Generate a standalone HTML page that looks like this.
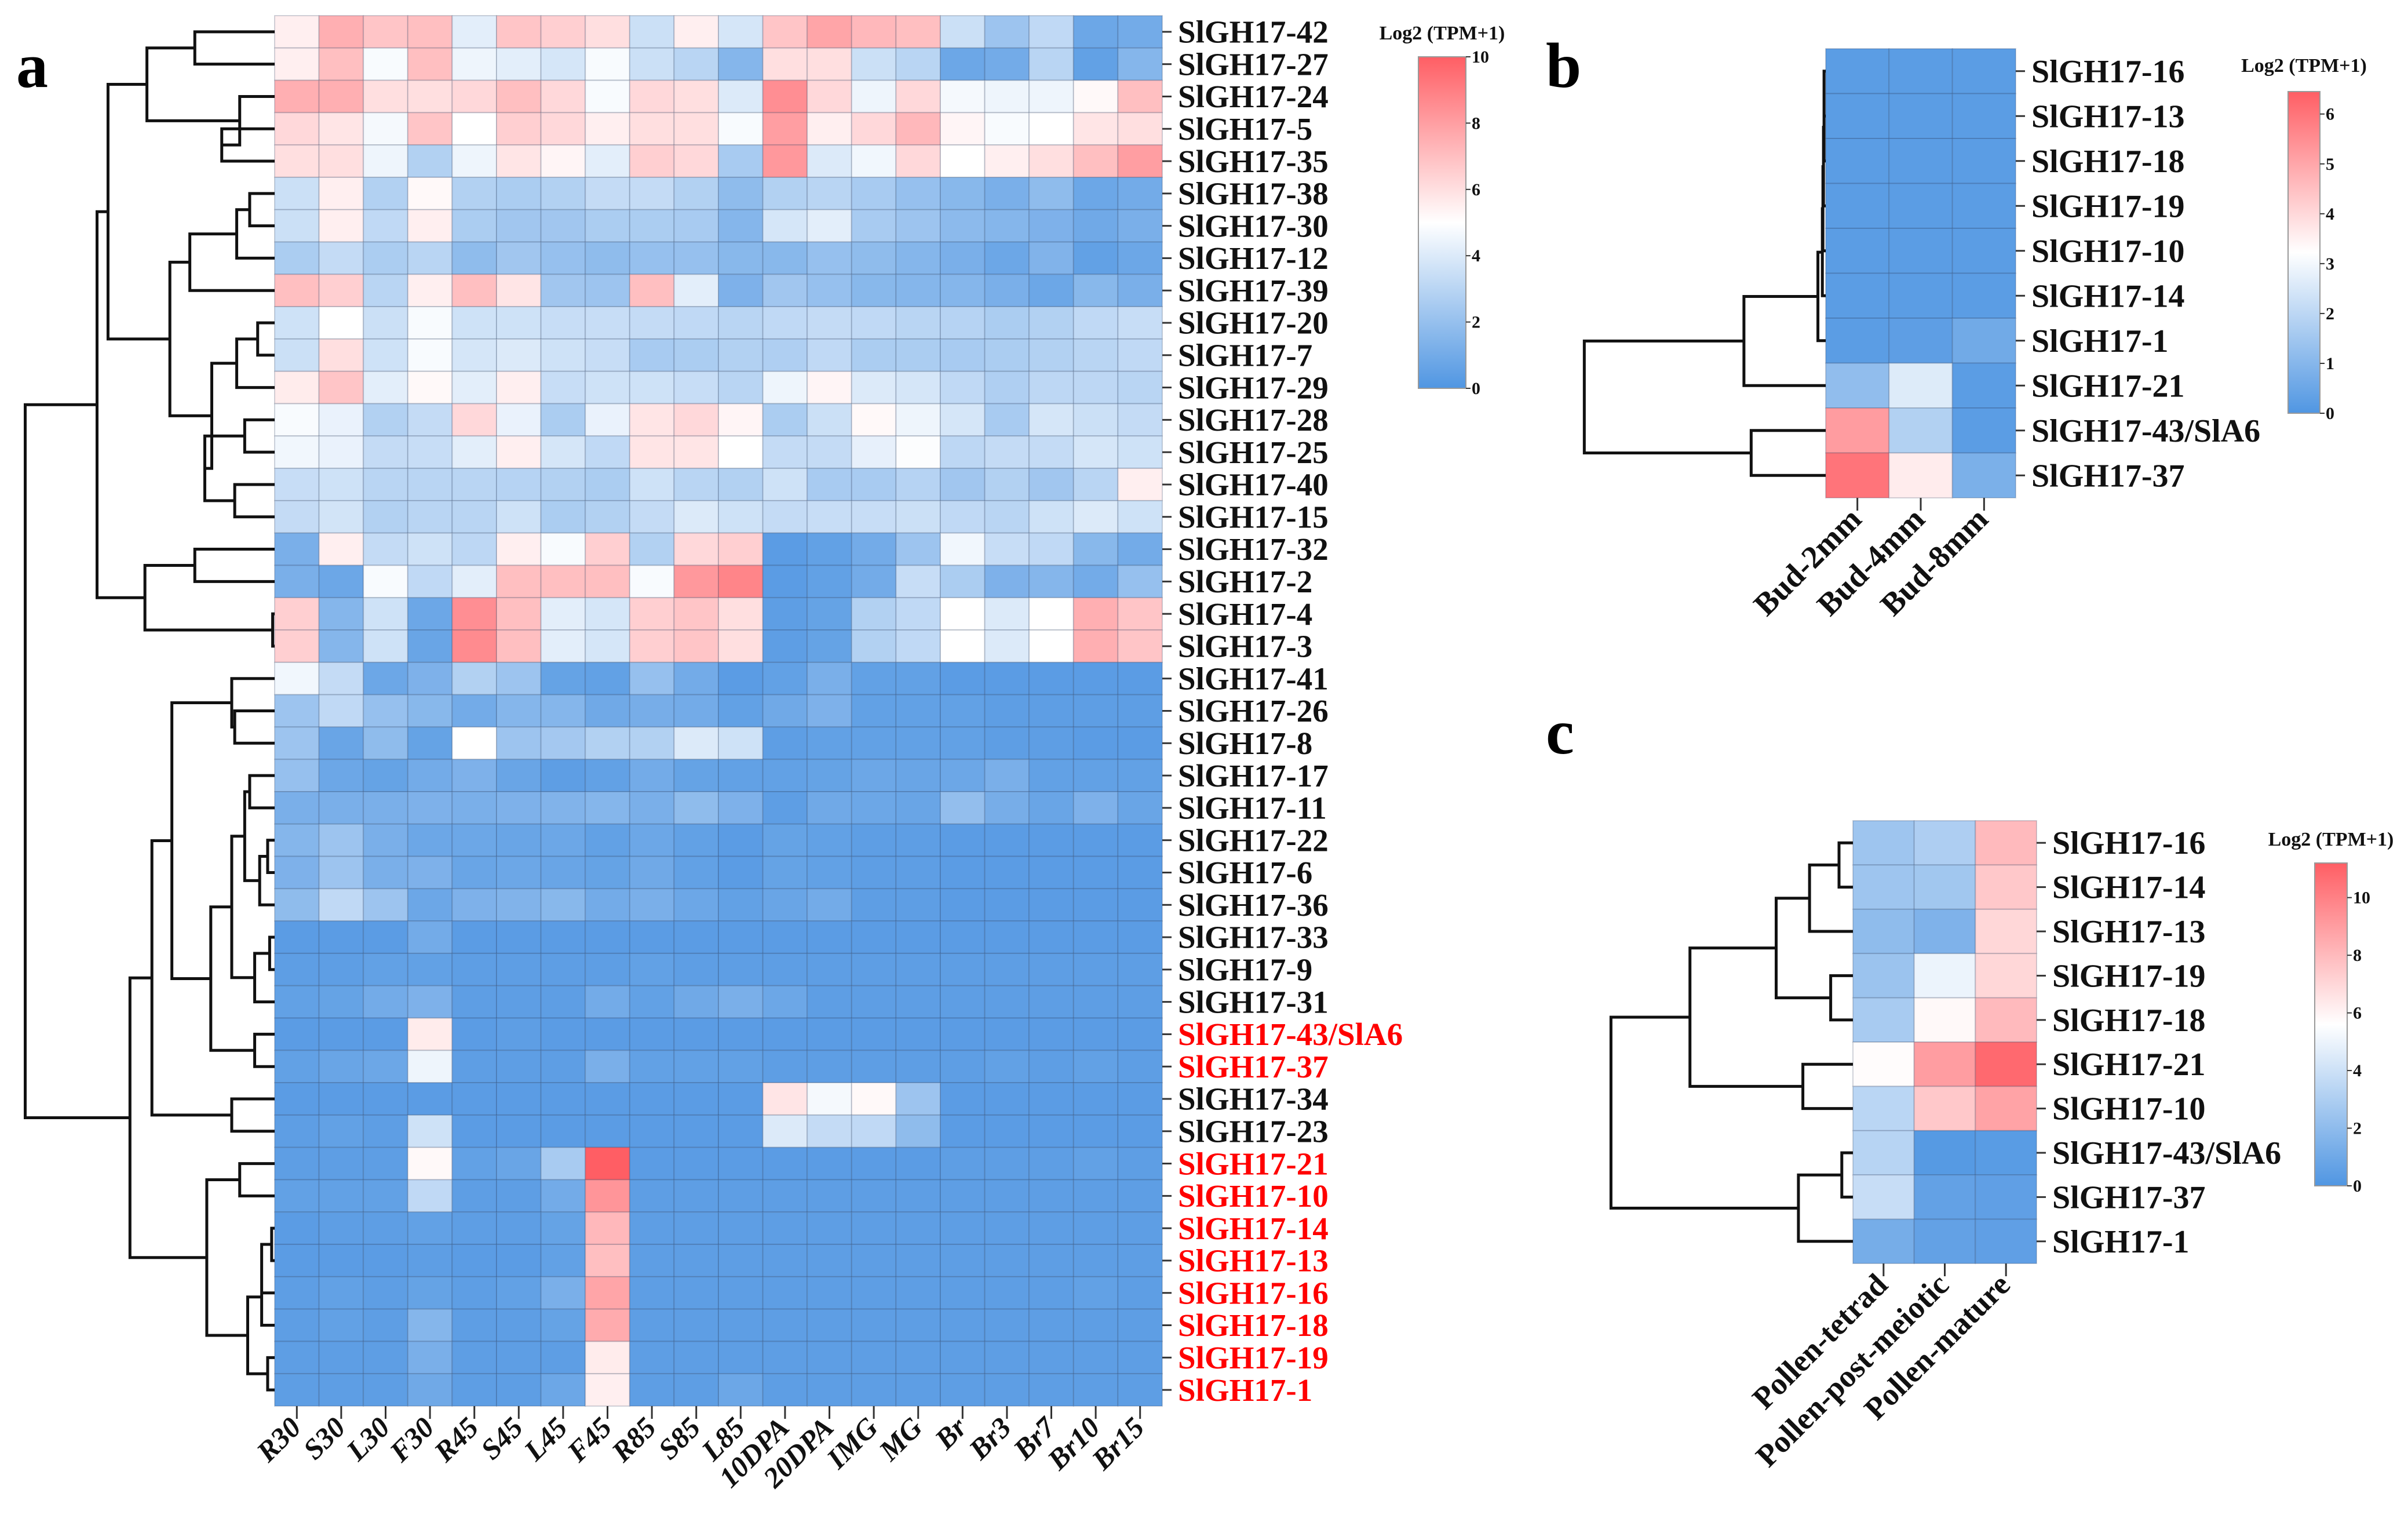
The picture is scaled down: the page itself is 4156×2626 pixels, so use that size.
<!DOCTYPE html>
<html><head><meta charset="utf-8"><style>
html,body{margin:0;padding:0;background:#fff}
svg{display:block}
text{font-family:"Liberation Serif",serif;font-weight:bold}
</style></head><body>
<svg id="fig" xmlns="http://www.w3.org/2000/svg" width="4156" height="2626" viewBox="0 0 4156 2626"></svg>
<script>
// ---------- Panel a data ----------
const aCols = ["R30","S30","L30","F30","R45","S45","L45","F45","R85","S85","L85","10DPA","20DPA","IMG","MG","Br","Br3","Br7","Br10","Br15"];
const aRows = ["SlGH17-42","SlGH17-27","SlGH17-24","SlGH17-5","SlGH17-35","SlGH17-38","SlGH17-30","SlGH17-12","SlGH17-39","SlGH17-20","SlGH17-7","SlGH17-29","SlGH17-28","SlGH17-25","SlGH17-40","SlGH17-15","SlGH17-32","SlGH17-2","SlGH17-4","SlGH17-3","SlGH17-41","SlGH17-26","SlGH17-8","SlGH17-17","SlGH17-11","SlGH17-22","SlGH17-6","SlGH17-36","SlGH17-33","SlGH17-9","SlGH17-31","SlGH17-43/SlA6","SlGH17-37","SlGH17-34","SlGH17-23","SlGH17-21","SlGH17-10","SlGH17-14","SlGH17-13","SlGH17-16","SlGH17-18","SlGH17-19","SlGH17-1"];
const aRed = [31,32,35,36,37,38,39,40,41,42];
const aVals = [
[5.5,7.5,6.8,7.0,4.2,6.8,6.5,6.0,3.5,5.5,3.8,6.8,7.8,7.2,7.0,3.5,2.2,3.2,0.8,1.0],
[5.5,7.0,4.8,7.0,4.5,4.2,3.8,4.8,3.5,3.0,1.5,6.0,6.0,3.5,3.0,0.8,1.0,3.0,0.5,1.5],
[7.5,7.5,6.0,6.0,6.2,7.0,6.2,4.8,6.2,6.0,4.0,8.5,6.2,4.5,6.2,4.7,4.5,4.5,5.2,7.0],
[6.2,5.8,4.7,6.8,5.0,6.5,6.2,5.5,6.0,6.0,4.8,8.0,5.5,6.2,7.2,5.3,4.8,5.0,5.8,6.0],
[6.0,6.0,4.5,2.8,4.5,5.8,5.3,4.2,6.5,6.2,2.5,8.2,4.0,4.6,6.2,5.0,5.5,6.0,7.0,8.0],
[3.5,5.5,2.8,5.2,2.8,2.6,2.8,3.3,3.3,2.8,1.8,2.8,3.0,2.5,2.0,1.6,1.2,1.8,0.8,1.0],
[3.5,5.5,3.2,5.5,2.6,2.3,2.3,2.6,2.6,2.5,1.5,3.8,4.2,2.5,2.2,1.7,1.5,1.3,0.9,1.2],
[2.6,3.3,2.6,3.0,1.8,2.3,2.0,1.8,2.0,2.0,1.6,1.6,2.0,1.8,1.5,1.2,0.8,1.4,0.5,0.8],
[7.0,6.5,3.0,5.5,7.0,5.8,2.3,2.2,7.0,4.2,1.3,2.3,2.0,1.6,1.5,1.5,1.2,0.8,1.6,1.2],
[3.6,5.0,3.5,4.8,3.6,3.6,3.4,3.4,3.3,3.2,3.0,3.2,3.3,3.2,3.0,2.9,2.6,2.8,3.2,3.4],
[3.5,6.0,3.6,4.8,3.8,4.0,3.6,3.4,2.5,2.6,2.8,2.7,3.2,2.6,2.6,2.5,2.6,2.8,3.0,3.2],
[5.6,6.8,4.2,5.2,4.2,5.5,3.4,3.6,3.6,3.4,3.0,4.5,5.3,4.0,3.8,3.2,2.7,3.1,3.1,3.0],
[4.8,4.4,2.8,3.3,6.2,4.4,2.6,4.4,5.8,6.2,5.3,2.6,3.5,5.2,4.5,3.8,2.5,3.8,3.5,3.3],
[4.6,4.4,3.3,3.4,4.2,5.5,3.8,3.2,5.8,5.8,5.0,3.3,3.3,4.3,4.9,3.1,3.3,3.3,3.8,3.6],
[3.4,3.6,3.0,3.0,3.0,2.9,2.8,2.6,3.6,3.0,2.8,3.6,2.5,2.5,2.9,2.3,2.8,2.3,3.0,5.5],
[3.3,3.7,2.8,3.0,3.0,3.6,2.6,2.8,3.3,4.0,3.6,3.3,3.4,3.4,3.5,3.2,3.0,3.6,4.0,3.6],
[1.2,5.5,3.3,3.6,3.1,5.5,4.8,6.5,2.8,6.2,6.5,0.3,0.5,1.0,2.2,4.6,3.4,3.2,1.6,1.0],
[1.2,0.8,4.8,3.2,4.2,7.0,7.0,7.0,4.8,8.2,8.8,0.3,0.5,1.0,3.4,2.6,1.3,1.5,1.0,2.0],
[6.5,1.5,3.6,0.8,8.5,7.0,4.2,3.8,6.5,6.8,6.0,0.4,0.6,2.8,3.2,5.0,4.0,5.0,7.5,6.8],
[6.5,1.5,3.6,0.7,8.6,7.0,4.2,3.8,6.5,6.8,6.0,0.4,0.6,2.8,3.2,5.0,4.0,5.0,7.5,6.8],
[4.6,3.3,0.8,1.3,2.8,2.2,0.6,0.5,2.0,1.0,0.3,0.5,1.2,0.5,0.5,0.3,0.3,0.3,0.3,0.3],
[2.2,3.2,2.0,1.6,1.0,1.5,1.5,0.9,1.1,1.0,0.5,0.9,1.3,0.5,0.5,0.5,0.4,0.4,0.4,0.4],
[2.2,0.7,1.8,0.6,5.0,2.2,2.4,2.8,2.8,4.0,3.6,0.4,0.5,0.5,0.5,0.5,0.4,0.4,0.3,0.3],
[2.0,0.8,0.6,1.0,1.3,0.7,0.4,0.5,1.0,0.6,0.5,0.5,0.6,0.8,0.7,0.8,1.2,0.5,0.5,0.5],
[1.2,1.2,1.2,1.3,1.2,1.3,1.4,1.5,1.2,1.8,1.3,0.4,0.9,0.8,0.7,1.9,1.1,0.7,1.3,0.7],
[1.5,2.2,1.2,0.8,0.8,0.7,0.8,0.5,0.8,0.5,0.3,0.6,0.5,0.4,0.4,0.3,0.3,0.3,0.3,0.3],
[1.3,2.2,1.2,1.3,0.7,0.8,0.7,0.6,0.9,0.5,0.3,0.6,0.5,0.4,0.4,0.3,0.3,0.3,0.3,0.3],
[1.8,3.2,2.2,0.8,1.3,1.4,1.6,1.0,1.2,0.8,0.5,0.7,1.0,0.4,0.4,0.3,0.3,0.3,0.3,0.3],
[0.3,0.3,0.3,1.0,0.3,0.3,0.3,0.3,0.3,0.3,0.3,0.3,0.3,0.3,0.3,0.3,0.3,0.3,0.3,0.3],
[0.4,0.4,0.5,0.5,0.4,0.4,0.4,0.4,0.5,0.4,0.4,0.4,0.4,0.4,0.4,0.4,0.4,0.4,0.4,0.4],
[0.5,0.6,1.0,1.3,0.4,0.4,0.4,1.0,0.5,0.9,1.2,0.8,0.4,0.4,0.4,0.4,0.4,0.4,0.4,0.4],
[0.3,0.3,0.3,5.6,0.3,0.4,0.3,0.3,0.3,0.3,0.3,0.3,0.3,0.3,0.3,0.3,0.3,0.3,0.3,0.3],
[0.5,0.7,0.8,4.5,0.4,0.4,0.4,1.2,0.5,0.5,0.5,0.4,0.4,0.4,0.4,0.4,0.5,0.4,0.5,0.4],
[0.3,0.3,0.3,0.3,0.3,0.3,0.3,0.3,0.3,0.3,0.3,5.8,4.7,5.2,2.2,0.3,0.3,0.3,0.3,0.3],
[0.4,0.5,0.4,3.6,0.3,0.3,0.3,0.3,0.3,0.3,0.3,4.0,3.3,3.2,1.8,0.3,0.3,0.3,0.3,0.3],
[0.4,0.4,0.4,5.2,0.5,0.7,2.5,10.0,0.3,0.3,0.3,0.3,0.3,0.3,0.3,0.4,0.4,0.4,0.5,0.4],
[0.5,0.5,0.5,3.2,0.4,0.4,1.0,8.3,0.4,0.4,0.4,0.4,0.4,0.4,0.4,0.4,0.4,0.4,0.4,0.4],
[0.3,0.4,0.4,0.5,0.4,0.4,0.6,7.2,0.4,0.4,0.4,0.4,0.4,0.4,0.4,0.4,0.4,0.4,0.4,0.4],
[0.3,0.3,0.3,0.4,0.3,0.3,0.5,7.0,0.4,0.4,0.4,0.4,0.4,0.4,0.4,0.4,0.4,0.4,0.4,0.4],
[0.4,0.5,0.4,0.6,0.4,0.5,1.2,7.8,0.4,0.4,0.4,0.4,0.4,0.4,0.4,0.4,0.4,0.4,0.5,0.4],
[0.4,0.5,0.4,1.5,0.4,0.4,0.6,7.6,0.4,0.4,0.4,0.4,0.4,0.4,0.4,0.4,0.4,0.4,0.4,0.4],
[0.4,0.4,0.4,1.2,0.4,0.4,0.4,5.6,0.4,0.4,0.4,0.4,0.4,0.4,0.4,0.4,0.4,0.4,0.4,0.4],
[0.4,0.4,0.4,0.9,0.4,0.4,0.8,5.5,0.4,0.4,0.8,0.4,0.4,0.4,0.4,0.4,0.4,0.4,0.4,0.4]];
const aLink = [[0,1,80],[3,4,53],[2,44,35],[43,45,128],[5,6,25],[47,7,38],[48,8,85],[9,10,17],[50,11,38],[12,13,30],[14,15,40],[52,53,70],[51,54,63],[49,55,105],[46,56,167],[16,17,80],[18,19,2],[58,59,130],[57,60,178],[21,22,40],[20,62,43],[23,24,25],[25,26,7],[65,27,15],[64,66,30],[28,29,5],[68,30,20],[67,69,43],[31,32,20],[70,71,64],[63,72,103],[33,34,43],[73,74,123],[35,36,35],[37,38,3],[77,39,13],[78,40,13],[41,42,7],[79,80,27],[76,81,68],[75,82,145],[61,83,250]];
const aTicks = [0,2,4,6,8,10];
// ---------- Panel b data ----------
const bCols = ["Bud-2mm","Bud-4mm","Bud-8mm"];
const bRows = ["SlGH17-16","SlGH17-13","SlGH17-18","SlGH17-19","SlGH17-10","SlGH17-14","SlGH17-1","SlGH17-21","SlGH17-43/SlA6","SlGH17-37"];
const bVals = [[0.2,0.2,0.2],[0.2,0.2,0.2],[0.2,0.2,0.2],[0.2,0.2,0.2],[0.2,0.2,0.2],[0.2,0.2,0.2],[0.2,0.25,0.6],[1.2,2.6,0.2],[5.2,1.8,0.2],[6.0,3.6,0.8]];
const bLink = [[0,1,3],[10,2,3],[11,3,4],[12,4,5],[13,5,6],[14,6,14],[15,7,147],[8,9,134],[16,17,434]];
const bTicks = [0,1,2,3,4,5,6];
// ---------- Panel c data ----------
const cCols = ["Pollen-tetrad","Pollen-post-meiotic","Pollen-mature"];
const cRows = ["SlGH17-16","SlGH17-14","SlGH17-13","SlGH17-19","SlGH17-18","SlGH17-21","SlGH17-10","SlGH17-43/SlA6","SlGH17-37","SlGH17-1"];
const cVals = [[2.5,3.0,8.0],[2.5,2.6,7.5],[2.0,1.5,7.0],[2.4,5.0,7.0],[2.8,5.8,8.0],[5.7,9.0,10.8],[3.4,7.5,8.8],[3.3,0.2,0.3],[3.8,0.6,0.5],[1.2,0.6,0.5]];
const cLink = [[0,1,25],[10,2,78],[3,4,40],[11,12,138],[5,6,90],[13,14,293],[7,8,20],[16,9,98],[15,17,435]];
const cTicks = [0,2,4,6,8,10];

const NS = "http://www.w3.org/2000/svg";
const svg = document.getElementById('fig');
function mk(tag, attrs, parent){const e=document.createElementNS(NS,tag);for(const k in attrs)e.setAttribute(k,attrs[k]);(parent||svg).appendChild(e);return e;}
const BLUE=[80,150,226], WHITE=[255,255,255], RED=[255,94,100];
function cmap(t){t=Math.max(0,Math.min(1,t));let a,b,u;if(t<0.5){a=BLUE;b=WHITE;u=t/0.5;}else{a=WHITE;b=RED;u=(t-0.5)/0.5;}
 return `rgb(${Math.round(a[0]+(b[0]-a[0])*u)},${Math.round(a[1]+(b[1]-a[1])*u)},${Math.round(a[2]+(b[2]-a[2])*u)})`;}

function panel(p){
 const g = mk('g',{});
 
 
 const nR=p.rows.length, nC=p.cols.length;
 const cw=(p.x1-p.x0)/nC, rh=(p.y1-p.y0)/nR;
 const xS=i=>p.x0+i*cw, yS=j=>p.y0+j*rh;
 // cells
 for(let j=0;j<nR;j++)for(let i=0;i<nC;i++){
  const r=mk('rect',{x:xS(i),y:yS(j),width:cw,height:rh,fill:cmap(p.vals[j][i]/p.max),stroke:'rgba(40,60,90,0.22)','stroke-width':2},g);
  
  
 }
 // row labels + ticks
 for(let j=0;j<nR;j++){
  const yc=yS(j)+rh/2;
  mk('line',{x1:p.x1,x2:p.x1+16,y1:yc,y2:yc,stroke:'#333','stroke-width':3},g);
  const t=mk('text',{x:p.x1+27,y:yc+p.rfs*0.34,'font-size':p.rfs,fill:(p.red&&p.red.includes(j))?'#ff0000':'#111'},g);
  t.textContent=p.rows[j];
  
  
 }
 // column labels + ticks
 for(let i=0;i<nC;i++){
  const xc=xS(i)+cw/2;
  mk('line',{x1:xc,x2:xc,y1:p.y1,y2:p.y1+22,stroke:'#333','stroke-width':3},g);
  const ty=p.y1+40;
  const t=mk('text',{x:xc+10,y:ty,'font-size':p.cfs,'text-anchor':'end',fill:'#111',transform:`rotate(-45 ${xc+10} ${ty})`,'font-style':p.italic?'italic':'normal'},g);
  t.textContent=p.cols[i];
  
  
 }
 // dendrogram
 const pos={}, ht={};
 for(let j=0;j<nR;j++){pos[j]=yS(j)+rh/2;ht[j]=0;}
 let d='';
 p.link.forEach((L,k)=>{
  const id=nR+k,[a,b,h]=L;
  const xa=p.x0-ht[a]*p.ds, xb=p.x0-ht[b]*p.ds, xh=p.x0-h*p.ds;
  d+=`M${xa},${pos[a]}H${xh}V${pos[b]}H${xb}`;
  pos[id]=(pos[a]+pos[b])/2; ht[id]=h;
 });
 const dp=mk('path',{d:d,fill:'none',stroke:'#111','stroke-width':5,'stroke-linejoin':'miter'},g);
 
 
 // colorbar
 const gid='grad-'+p.name;
 const defs=mk('defs',{},g);
 const lg=mk('linearGradient',{id:gid,x1:0,y1:1,x2:0,y2:0},defs);
 mk('stop',{offset:'0','stop-color':cmap(0)},lg);mk('stop',{offset:'0.5','stop-color':'#fff'},lg);mk('stop',{offset:'1','stop-color':cmap(1)},lg);
 const cb=mk('rect',{x:p.cbx,y:p.cby0,width:p.cbw,height:p.cby1-p.cby0,fill:`url(#${gid})`,stroke:'#999','stroke-width':2},g);
 
 
 const cbY=v=>p.cby1-(v/p.max)*(p.cby1-p.cby0);
 p.ticks.forEach(v=>{
  const y=cbY(v);
  mk('line',{x1:p.cbx+p.cbw,x2:p.cbx+p.cbw+8,y1:y,y2:y,stroke:'#333','stroke-width':2},g);
  const t=mk('text',{x:p.cbx+p.cbw+10,y:y+10,'font-size':30,fill:'#111'},g);
  t.textContent=v;
  
  
 });
 const tt=mk('text',{x:p.cbx+p.cbw/2,y:p.cby0-p.tgap,'font-size':34,'text-anchor':'middle',fill:'#111'},g);
 tt.textContent='Log2 (TPM+1)';
 
 
 const pl=mk('text',{x:p.lx,y:p.ly,'font-size':110,fill:'#000'},g);
 pl.textContent=p.name;
 
 
}

panel({name:'a',rows:aRows,cols:aCols,vals:aVals,link:aLink,ticks:aTicks,red:aRed,max:10,
 x0:474,x1:2006,y0:27,y1:2426,ds:1.722,rfs:55,cfs:50,italic:true,
 cbx:2448,cbw:82,cby0:98,cby1:670,tgap:30,lx:28,ly:150});
panel({name:'b',rows:bRows,cols:bCols,vals:bVals,link:bLink,ticks:bTicks,max:6.45,
 x0:3151,x1:3479,y0:84,y1:859,ds:0.96,rfs:56,cfs:55,
 cbx:3949,cbw:55,cby0:158,cby1:713,tgap:34,lx:2668,ly:150});
panel({name:'c',rows:cRows,cols:cCols,vals:cVals,link:cLink,ticks:cTicks,max:11.2,
 x0:3198,x1:3515,y0:1416,y1:2180,ds:0.96,rfs:56,cfs:54,
 cbx:3995,cbw:56,cby0:1489,cby1:2046,tgap:30,lx:2668,ly:1300});
</script>
</body></html>
